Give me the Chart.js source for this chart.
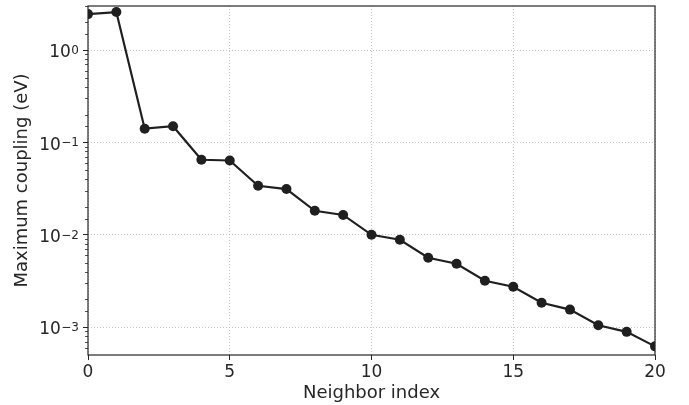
<!DOCTYPE html>
<html>
<head>
<meta charset="utf-8">
<script src="https://cdn.jsdelivr.net/npm/chart.js@4"></script>
<style>
  html, body { margin: 0; padding: 0; background: #fff; }
  #wrap { width: 689px; height: 405px; }
</style>
</head>
<body>
<div id="wrap"><canvas id="chart"></canvas></div>
<script>
// Datos
const neighborIndex = [0, 1, 2, 3, 4, 5, 6, 7, 8, 9, 10, 11, 12, 13, 14, 15, 16, 17, 18, 19, 20];
const maxCoupling = [2.45, 2.58, 0.141, 0.150, 0.065, 0.0638, 0.034, 0.0313, 0.0182, 0.0164,
                     0.0100, 0.00885, 0.00565, 0.00486, 0.00318, 0.00274, 0.00184, 0.00155,
                     0.00105, 0.00089, 0.00062];
const xTicks = [0, 5, 10, 15, 20];
const yRange = [5e-4, 3];

const AXIS = '#262626';
const FONT = "'DejaVu Sans', sans-serif";

function isDecade(v) {
    const l = Math.log10(v);
    return Math.abs(l - Math.round(l)) < 1e-9;
}

// Marco completo, marcas menores y etiquetas 10^n del eje y
const framePlugin = {
    id: 'frame',
    afterDraw(chart) {
        const { ctx, chartArea: a, scales } = chart;
        const ys = scales.y;
        ctx.save();
        ctx.strokeStyle = AXIS;
        ctx.lineWidth = 1.2;
        ctx.strokeRect(a.left, a.top, a.right - a.left, a.bottom - a.top);

        ctx.lineWidth = 0.8;
        ctx.beginPath();
        ys.ticks.forEach(t => {
            if (isDecade(t.value)) return;
            const y = Math.round(ys.getPixelForValue(t.value)) + 0.5;
            if (y < a.top || y > a.bottom) return;
            ctx.moveTo(a.left, y);
            ctx.lineTo(a.left - 3, y);
        });
        ctx.stroke();

        ctx.fillStyle = AXIS;
        ctx.textAlign = 'right';
        ctx.textBaseline = 'alphabetic';
        const right = a.left - 9;
        ys.ticks.forEach(t => {
            if (!isDecade(t.value)) return;
            const y = ys.getPixelForValue(t.value);
            if (y < a.top - 1 || y > a.bottom + 1) return;
            const e = Math.round(Math.log10(t.value));
            const sup = e < 0 ? '\u2212' + (-e) : String(e);
            ctx.font = '12px ' + FONT;
            const w = ctx.measureText(sup).width;
            ctx.fillText(sup, right, y + 3.7);
            ctx.font = '17px ' + FONT;
            ctx.fillText('10', right - w - 0.5, y + 7.3);
        });
        ctx.restore();
    }
};

const ctx = document.getElementById('chart').getContext('2d');

new Chart(ctx, {
    type: 'line',
    data: {
        datasets: [{
            data: neighborIndex.map((x, i) => ({ x: x, y: maxCoupling[i] })),
            borderColor: '#1f1f1f',
            backgroundColor: '#1f1f1f',
            borderWidth: 2.2,
            pointRadius: 5,
            pointHoverRadius: 5,
            pointBorderWidth: 0,
            tension: 0,
            clip: 0
        }]
    },
    options: {
        responsive: true,
        maintainAspectRatio: false,
        animation: false,
        events: [],
        layout: { padding: { top: 6, right: 34, left: 0, bottom: 0 } },
        plugins: {
            legend: { display: false },
            tooltip: { enabled: false }
        },
        scales: {
            x: {
                type: 'linear',
                min: 0,
                max: 20,
                afterBuildTicks(scale) {
                    scale.ticks = xTicks.map(v => ({ value: v }));
                },
                afterFit(scale) { scale.height = 50; },
                ticks: {
                    color: AXIS,
                    font: { family: FONT, size: 17 },
                    padding: 2,
                    maxRotation: 0
                },
                grid: {
                    color: '#b8b8b8',
                    lineWidth: 0.8,
                    tickLength: 5,
                    tickColor: AXIS,
                    tickWidth: 1
                },
                border: { display: false, dash: [1, 2] },
                title: {
                    display: true,
                    text: 'Neighbor index',
                    color: AXIS,
                    font: { family: FONT, size: 18 },
                    padding: { top: 0, bottom: 1 }
                }
            },
            y: {
                type: 'logarithmic',
                min: yRange[0],
                max: yRange[1],
                afterFit(scale) { scale.width = 88; },
                ticks: {
                    display: false,
                    autoSkip: false
                },
                grid: {
                    color: c => (c.tick && isDecade(c.tick.value)) ? '#b8b8b8' : 'rgba(0,0,0,0)',
                    lineWidth: 0.8,
                    tickLength: 5,
                    tickColor: c => (c.tick && isDecade(c.tick.value)) ? AXIS : 'rgba(0,0,0,0)',
                    tickWidth: 1
                },
                border: { display: false, dash: [1, 2] },
                title: {
                    display: true,
                    text: 'Maximum coupling (eV)',
                    color: AXIS,
                    font: { family: FONT, size: 18 },
                    padding: { top: 12, bottom: 0 }
                }
            }
        }
    },
    plugins: [framePlugin]
});
</script>
</body>
</html>
